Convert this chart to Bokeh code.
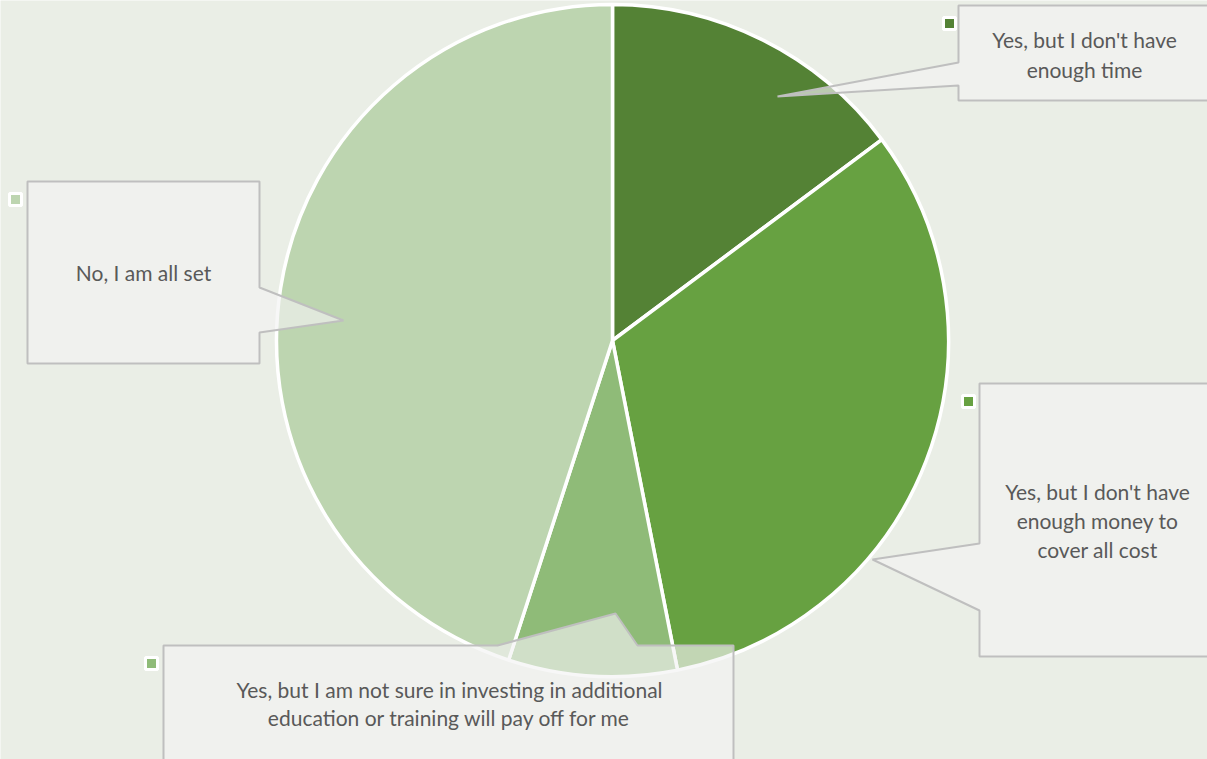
import math
from bokeh.plotting import figure
from bokeh.models import Range1d, ColumnDataSource
from bokeh.core.properties import value
from bokeh.embed import file_html
from bokeh.resources import INLINE

# ---- data ----
categories = [
    "Yes, but I don't have enough time",
    "Yes, but I don't have enough money to cover all cost",
    "Yes, but I am not sure in investing in additional education or training will pay off for me",
    "No, I am all set",
]
shares = [14.8, 32.1, 8.1, 45.0]
colors = ["#548235", "#67A141", "#8FBB78", "#BDD5B0"]
label_lines = [
    ["Yes, but I don't have", "enough time"],
    ["Yes, but I don't have", "enough money to", "cover all cost"],
    ["Yes, but I am not sure in investing in additional", "education or training will pay off for me"],
    ["No, I am all set"],
]

# ---- layout (pixel positions of the reference; y measured downwards) ----
CX, CY, R = 612, 340, 336
BG = "#EAEEE6"
callout_shapes = [
    [(958, 5), (1230, 5), (1230, 100), (958, 100), (958, 85), (777, 96), (958, 62)],
    [(979, 383), (1230, 383), (1230, 656), (979, 656), (979, 610), (872, 559), (979, 543)],
    [(163, 645), (497, 645), (615, 613), (637, 645), (733, 645), (733, 780), (163, 780)],
    [(27, 181), (259, 181), (259, 287), (343, 320), (259, 332), (259, 363), (27, 363)],
]
text_pos = [(1084, 39, 30), (1097, 491, 29), (449, 689, 28), (143, 272, 30)]
square_pos = [(949, 23), (968, 401), (151, 663), (15, 199)]

W, H = 1207, 759
p = figure(width=W, height=H, output_backend="svg", toolbar_location=None,
           x_range=Range1d(0, W), y_range=Range1d(-H, 0),
           min_border=0, background_fill_color=BG, border_fill_color=BG)
p.axis.visible = False
p.grid.visible = False
p.outline_line_color = None

# pie
total = sum(shares)
starts, ends = [], []
cum = 0.0
for s in shares:
    starts.append(math.pi / 2 - 2 * math.pi * cum / total)
    cum += s
    ends.append(math.pi / 2 - 2 * math.pi * cum / total)
src = ColumnDataSource(dict(start=starts, end=ends, color=colors, cat=categories))
p.wedge(x=CX, y=-CY, radius=R, start_angle="start", end_angle="end",
        direction="clock", fill_color="color", line_color="white",
        line_width=3.5, source=src)

# callouts
xs = [[pt[0] for pt in shp] for shp in callout_shapes]
ys = [[-pt[1] for pt in shp] for shp in callout_shapes]
p.patches(xs=xs, ys=ys, fill_color="#F2F2F2", fill_alpha=0.65,
          line_color="#BFBFBF", line_width=2)

# texts
tx, ty, tt = [], [], []
for lines, (x0, y0, dy) in zip(label_lines, text_pos):
    for i, ln in enumerate(lines):
        tx.append(x0)
        ty.append(-(y0 + i * dy))
        tt.append(ln)
p.text(x=tx, y=ty, text=tt, text_align="center", text_baseline="middle",
       text_font=value("Lato"), text_font_size="21px", text_color="#595959")

# legend keys
p.scatter(x=[s[0] for s in square_pos], y=[-s[1] for s in square_pos],
          marker="square", size=12, fill_color=colors, line_color="white",
          line_width=3)

open("out.html", "w").write(file_html(p, INLINE))
